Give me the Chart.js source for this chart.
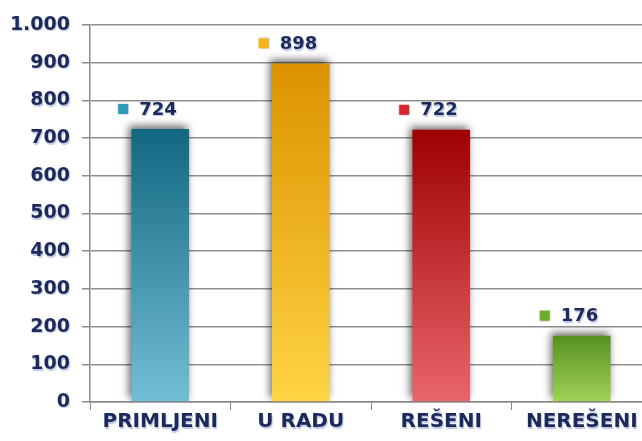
<!DOCTYPE html>
<html>
<head>
<meta charset="utf-8">
<script src="https://cdn.jsdelivr.net/npm/chart.js@4.4.1/dist/chart.umd.min.js"></script>
<style>
  html, body { margin: 0; padding: 0; background: #fff; overflow: hidden; }
  #wrap { width: 652px; height: 441px; position: relative; }
</style>
</head>
<body>
<div id="wrap"><canvas id="chart1"></canvas></div>
<script>
var categories = ['PRIMLJENI', 'U RADU', 'REŠENI', 'NEREŠENI'];
var values = [724, 898, 722, 176];
var yTicks = [0, 100, 200, 300, 400, 500, 600, 700, 800, 900, 1000];
// top / bottom colour of each bar gradient
var topColors = ['#126780', '#dc9200', '#9e0000', '#57901f'];
var bottomColors = ['#72bed6', '#ffd443', '#ea666c', '#a2d35a'];
var markColors = ['#2d9ab8', '#f5b51c', '#d8262e', '#6cae2c'];

var navy = '#1b2a5a';
var font = '"DejaVu Sans", "Open Sans", sans-serif';
var textShadow = 'rgba(70,90,170,0.35)';

function fmt(v) {
    var s = String(v);
    return s.length > 3 ? s.slice(0, s.length - 3) + '.' + s.slice(-3) : s;
}

// drop shadow under the bars + shadow on axis text
var barShadow = {
    id: 'barShadow',
    afterLayout: function(chart) {
        Object.keys(chart.scales).forEach(function(id) {
            var scale = chart.scales[id];
            if (scale._shadowed) return;
            var orig = scale.drawLabels;
            scale.drawLabels = function(area) {
                var c = this.ctx;
                c.save();
                c.shadowColor = textShadow;
                c.shadowBlur = 1;
                c.shadowOffsetX = 1;
                c.shadowOffsetY = 1.5;
                orig.call(this, area);
                c.restore();
            };
            scale._shadowed = true;
        });
    },
    beforeDatasetsDraw: function(chart) {
        var c = chart.ctx;
        c.save();
        c.shadowColor = 'rgba(0,0,0,0.6)';
        c.shadowBlur = 8;
        c.shadowOffsetX = -2;
        c.shadowOffsetY = -3;
    },
    afterDatasetsDraw: function(chart) {
        chart.ctx.restore();
    }
};

// value labels with a little coloured square
var valueLabels = {
    id: 'valueLabels',
    afterDatasetsDraw: function(chart) {
        var c = chart.ctx;
        var meta = chart.getDatasetMeta(0);
        c.save();
        c.font = 'bold 18px ' + font;
        c.textBaseline = 'middle';
        c.textAlign = 'left';
        meta.data.forEach(function(bar, i) {
            var y = bar.y - 19;
            var x0 = bar.x - 42;
            c.shadowColor = 'rgba(0,0,0,0.3)';
            c.shadowBlur = 2;
            c.fillStyle = markColors[i];
            c.fillRect(x0, y - 6, 10, 10);
            c.shadowColor = textShadow;
            c.shadowBlur = 1;
            c.shadowOffsetX = 1;
            c.shadowOffsetY = 1.5;
            c.fillStyle = navy;
            c.fillText(fmt(values[i]), x0 + 21, y);
            c.shadowOffsetX = 0;
            c.shadowOffsetY = 0;
        });
        c.restore();
    }
};

var ctx = document.getElementById('chart1').getContext('2d');
var myChart = new Chart(ctx, {
    type: 'bar',
    data: {
        labels: categories,
        datasets: [{
            data: values,
            backgroundColor: function(context) {
                var chart = context.chart;
                var area = chart.chartArea;
                var i = context.dataIndex;
                if (!area || !chart.scales.y) return topColors[i];
                var top = chart.scales.y.getPixelForValue(values[i]);
                var g = chart.ctx.createLinearGradient(0, top, 0, area.bottom);
                g.addColorStop(0, topColors[i]);
                g.addColorStop(1, bottomColors[i]);
                return g;
            },
            borderWidth: 0,
            barPercentage: 0.82,
            categoryPercentage: 0.5
        }]
    },
    options: {
        responsive: true,
        maintainAspectRatio: false,
        animation: false,
        layout: { padding: { top: 25, left: 0, right: 0, bottom: 0 } },
        plugins: {
            legend: { display: false },
            tooltip: { enabled: false }
        },
        scales: {
            x: {
                offset: true,
                grid: {
                    offset: true,
                    drawOnChartArea: false,
                    color: '#8a8a8a',
                    lineWidth: 1,
                    tickLength: 8
                },
                border: { color: '#8a8a8a', width: 1.5 },
                ticks: {
                    color: navy,
                    font: { family: font, size: 20, weight: 'bold' },
                    padding: 0
                },
                afterFit: function(scale) { scale.height = 39; }
            },
            y: {
                min: 0,
                max: 1000,
                afterBuildTicks: function(scale) {
                    scale.ticks = yTicks.map(function(v) { return { value: v }; });
                },
                grid: {
                    color: '#8f8f8f',
                    lineWidth: 1.5,
                    tickLength: 8
                },
                border: { color: '#8a8a8a', width: 1.5 },
                ticks: {
                    color: navy,
                    font: { family: font, size: 19, weight: 'bold' },
                    padding: 12,
                    callback: function(v) { return fmt(v); }
                },
                afterFit: function(scale) { scale.width = 90; }
            }
        }
    },
    plugins: [barShadow, valueLabels]
});
</script>
</body>
</html>
